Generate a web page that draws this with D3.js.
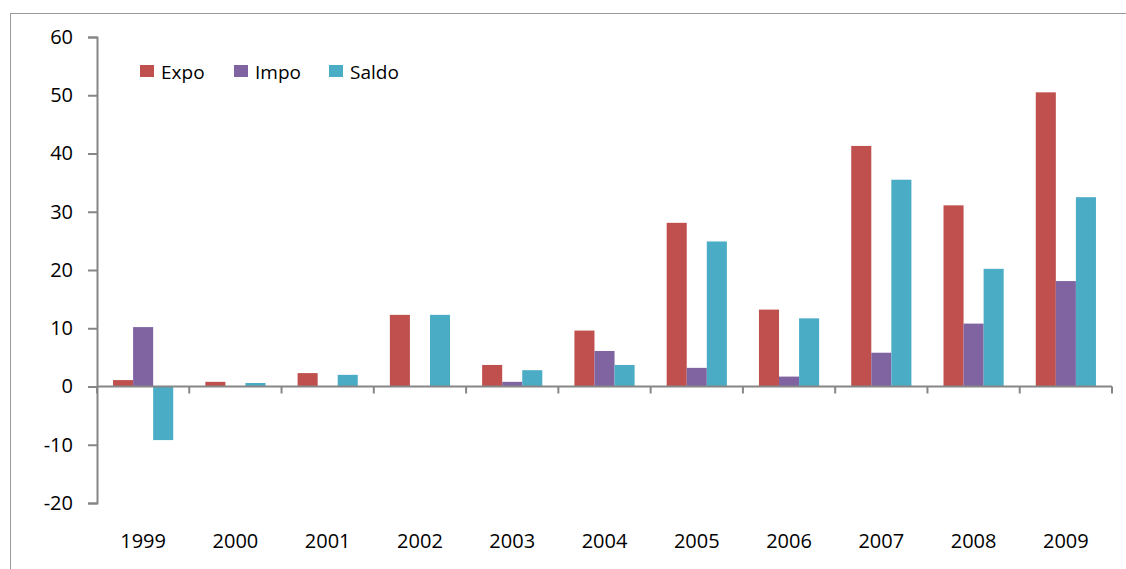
<!DOCTYPE html>
<html>
<head>
<meta charset="utf-8">
<script src="https://cdn.jsdelivr.net/npm/d3@7"></script>
<style>
  body { margin: 0; background: #fff; }
  svg text { font-family: "Open Sans", sans-serif; fill: #000; }
</style>
</head>
<body>
<div id="chart"></div>
<script>
var years = ['1999','2000','2001','2002','2003','2004','2005','2006','2007','2008','2009'];
var seriesNames = ['Expo', 'Impo', 'Saldo'];
var expo  = [1.1, 0.8, 2.3, 12.3, 3.7, 9.6, 28.1, 13.2, 41.3, 31.1, 50.5];
var impo  = [10.2, 0, 0, 0, 0.8, 6.1, 3.2, 1.7, 5.8, 10.8, 18.1];
var saldo = [-9.2, 0.6, 2.0, 12.3, 2.8, 3.7, 24.9, 11.7, 35.5, 20.2, 32.5];
var yTicks = [-20, -10, 0, 10, 20, 30, 40, 50, 60];
var colors = ['#C0504D', '#8064A2', '#4BACC6'];

var w = 1126, h = 569,
    plotLeft = 97, plotRight = 1112, plotTop = 37, plotBottom = 503;

var svg = d3.select('#chart')
  .append('svg')
  .attr('width', w)
  .attr('height', h);

// outer frame
svg.append('rect')
  .attr('x', 10.5).attr('y', 13.5)
  .attr('width', w + 10).attr('height', h + 10)
  .style('fill', 'none')
  .style('stroke', '#9a9a9a')
  .style('stroke-width', 1);

var x = d3.scaleBand().domain(years).range([plotLeft, plotRight]);
var xs = d3.scaleBand().domain(seriesNames)
  .range([0, x.bandwidth()])
  .paddingInner(0)
  .paddingOuter(0.8);
var y = d3.scaleLinear().domain([-20, 60]).range([plotBottom, plotTop]);

var data = [expo, impo, saldo];

// bars
seriesNames.forEach(function(name, s) {
  svg.append('g').selectAll('rect')
    .data(data[s])
    .enter()
    .append('rect')
    .attr('x', function(d, i) { return x(years[i]) + xs(name); })
    .attr('width', xs.bandwidth())
    .attr('y', function(d) { return y(Math.max(0, d)); })
    .attr('height', function(d) { return Math.abs(y(d) - y(0)); })
    .style('fill', colors[s]);
});

// y axis (plain hyphen for negatives, like the original)
var yAxis = svg.append('g')
  .attr('transform', 'translate(' + plotLeft + ',0)')
  .call(d3.axisLeft(y).tickValues(yTicks).tickSize(9).tickPadding(15)
    .tickFormat(function(d) { return String(d); }));
yAxis.select('.domain').style('stroke', '#868686').style('stroke-width', 2);
yAxis.selectAll('.tick line').style('stroke', '#868686').style('stroke-width', 2);
yAxis.selectAll('.tick text').style('font-size', '20px').attr('font-family', null);

// x axis at zero, ticks at category boundaries
var boundaries = years.map(function(d) { return x(d); }).concat([plotRight]);
svg.append('line')
  .attr('x1', plotLeft).attr('x2', plotRight)
  .attr('y1', y(0)).attr('y2', y(0))
  .style('stroke', '#868686').style('stroke-width', 2);
svg.append('g').selectAll('line')
  .data(boundaries)
  .enter()
  .append('line')
  .attr('x1', function(d) { return d; })
  .attr('x2', function(d) { return d; })
  .attr('y1', y(0))
  .attr('y2', y(0) + 7)
  .style('stroke', '#868686').style('stroke-width', 2);

svg.append('g').selectAll('text')
  .data(years)
  .enter()
  .append('text')
  .attr('x', function(d) { return x(d) + x.bandwidth() / 2; })
  .attr('y', 548)
  .attr('text-anchor', 'middle')
  .style('font-size', '20px')
  .text(function(d) { return d; });

// legend
var legendX = [140, 234, 329];
var legend = svg.append('g').selectAll('g')
  .data(seriesNames)
  .enter()
  .append('g')
  .attr('transform', function(d, i) { return 'translate(' + legendX[i] + ',65)'; });
legend.append('rect')
  .attr('width', 14).attr('height', 12)
  .style('fill', function(d, i) { return colors[i]; });
legend.append('text')
  .attr('x', 21).attr('y', 13.5)
  .style('font-size', '19px')
  .text(function(d) { return d; });
</script>
</body>
</html>
